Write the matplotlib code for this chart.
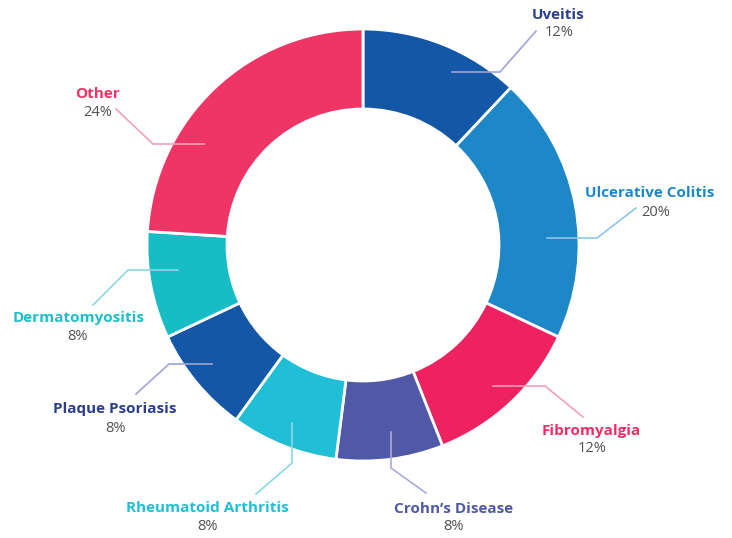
import matplotlib
matplotlib.use('Agg')
import matplotlib.pyplot as plt
import numpy as np

# data
labels = ["Uveitis", "Ulcerative Colitis", "Fibromyalgia", "Crohn\u2019s Disease",
          "Rheumatoid Arthritis", "Plaque Psoriasis", "Dermatomyositis", "Other"]
shares = [12, 20, 12, 8, 8, 8, 8, 24]

# styles
wedge_colors = ["#1457a6", "#1e87c8", "#ee2260", "#4f59a7",
                "#20bfd6", "#1457a6", "#17bdc4", "#ef3566"]
text_colors = ["#2d3e8e", "#1e87c8", "#ee2e65", "#4f59a7",
               "#20bfd6", "#2d3e8e", "#1fbfca", "#ef3566"]
line_colors = ["#9fa4d4", "#8cc8ea", "#f4a0ba", "#a8acd8",
               "#8ad8e6", "#9fa4d4", "#8ad8e6", "#f4a0ba"]

# layout in pixel space (y down): label centre, leader elbow, leader leg into the ring
label_pos = [(558, 15), (650, 193), (591, 431), (454, 509),
             (207, 508), (115, 409), (79, 318), (98, 94)]
pct_pos = [(559, 33), (656, 212), (592, 449), (453, 527),
           (207, 527), (115, 429), (77, 337), (98, 112)]
leader_end = [(536, 31), (636, 208), (583, 417), (426, 493),
              (256, 494), (136, 394), (93, 305), (116, 109)]
leader_elbow = [(500, 72), (597, 238), (545, 386), (391, 468),
                (292, 463), (169, 364), (128, 270), (153, 144)]
leader_leg = [(-48, 0), (-50, 0), (-52, 0), (0, -36),
              (0, -40), (43, 0), (50, 0), (51, 0)]

W, H = 732, 538
center = (363, 245)
radius = 216
ring = 80

fig = plt.figure(figsize=(W / 100, H / 100), dpi=100)
ax = fig.add_axes([0, 0, 1, 1])

# y axis is flipped, so counterclock=True draws clockwise on screen
ax.pie(shares, colors=wedge_colors, startangle=-90, counterclock=True,
       center=center, radius=radius,
       wedgeprops=dict(width=ring, edgecolor="white", linewidth=2))

for i, name in enumerate(labels):
    ex, ey = leader_elbow[i]
    sx, sy = ex + leader_leg[i][0], ey + leader_leg[i][1]
    tx, ty = leader_end[i]
    ax.plot([sx, ex, tx], [sy, ey, ty], color=line_colors[i], lw=1.2,
            solid_joinstyle="miter", zorder=3)
    ax.text(*label_pos[i], name, color=text_colors[i], fontsize=11,
            fontweight="bold", family="Open Sans", ha="center", va="center")
    ax.text(*pct_pos[i], f"{shares[i]}%", color="#505050", fontsize=10.5,
            family="Open Sans", ha="center", va="center")

ax.set_xlim(0, W)
ax.set_ylim(H, 0)
ax.set_aspect("equal")
ax.axis("off")

fig.savefig("out.png", dpi=100, facecolor="white")
plt.close(fig)
